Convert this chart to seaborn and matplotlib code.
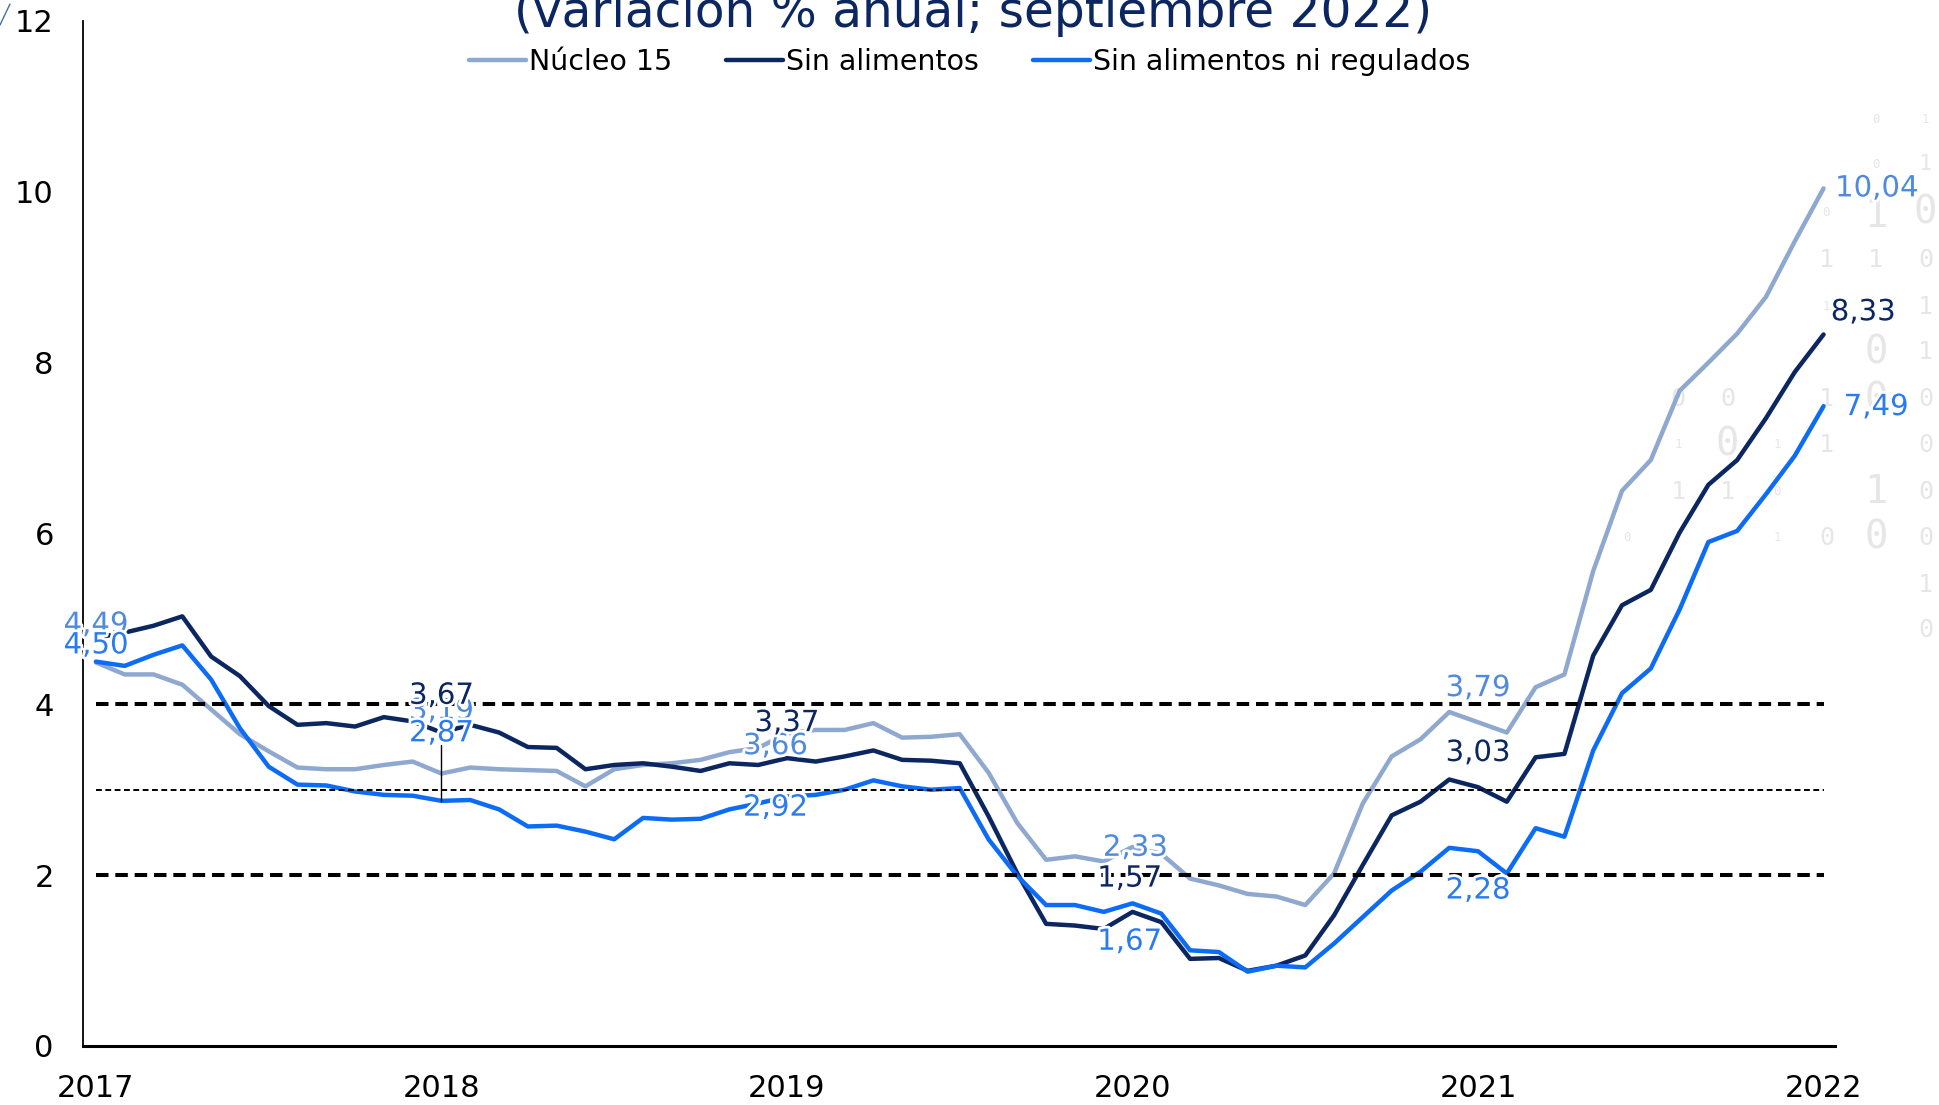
import numpy as np
import pandas as pd
import matplotlib
matplotlib.use("Agg")
import matplotlib.pyplot as plt
import seaborn as sns
from matplotlib import patheffects as pe
from matplotlib.lines import Line2D

sns.set_theme(style="white")
plt.rcParams["font.family"] = ["DejaVu Sans"]

# Monthly annual change (%), September 2017 - September 2022
years = ["2017", "2018", "2019", "2020", "2021", "2022"]
series_names = ["Núcleo 15", "Sin alimentos", "Sin alimentos ni regulados"]

nucleo15 = [4.49, 4.35, 4.35, 4.23, 3.94, 3.65, 3.45, 3.26, 3.24, 3.24, 3.29, 3.33,
            3.19, 3.26, 3.24, 3.23, 3.22, 3.04, 3.24, 3.29, 3.31, 3.35, 3.44, 3.49,
            3.66, 3.70, 3.70, 3.78, 3.61, 3.62, 3.65, 3.20, 2.61, 2.18, 2.22, 2.16,
            2.33, 2.25, 1.96, 1.88, 1.78, 1.75, 1.65, 2.02, 2.84, 3.39, 3.59, 3.91,
            3.79, 3.67, 4.20, 4.35, 5.56, 6.50, 6.86, 7.67, 8.00, 8.34, 8.77, 9.42,
            10.04]
sin_alimentos = [4.78, 4.84, 4.92, 5.03, 4.56, 4.33, 3.98, 3.76, 3.78, 3.74, 3.85, 3.80,
                 3.67, 3.76, 3.67, 3.50, 3.49, 3.24, 3.29, 3.31, 3.27, 3.22, 3.31, 3.29,
                 3.37, 3.33, 3.39, 3.46, 3.35, 3.34, 3.31, 2.69, 2.02, 1.43, 1.41, 1.37,
                 1.57, 1.45, 1.02, 1.03, 0.88, 0.94, 1.06, 1.53, 2.12, 2.70, 2.86, 3.12,
                 3.03, 2.86, 3.38, 3.42, 4.57, 5.16, 5.34, 6.01, 6.57, 6.86, 7.35, 7.89,
                 8.33]
sin_alim_regulados = [4.50, 4.45, 4.58, 4.69, 4.29, 3.72, 3.27, 3.06, 3.05, 2.98, 2.94, 2.93,
                      2.87, 2.88, 2.77, 2.57, 2.58, 2.51, 2.42, 2.67, 2.65, 2.66, 2.77, 2.84,
                      2.92, 2.94, 3.00, 3.11, 3.04, 3.00, 3.02, 2.42, 1.99, 1.65, 1.65, 1.57,
                      1.67, 1.55, 1.12, 1.10, 0.87, 0.94, 0.92, 1.20, 1.51, 1.82, 2.04, 2.32,
                      2.28, 2.02, 2.55, 2.45, 3.46, 4.13, 4.42, 5.11, 5.90, 6.03, 6.46, 6.91,
                      7.49]

# Target range reference levels
target_bounds = [2, 4]
target_center = 3

navy = "#0B2660"
line_colors = {"Núcleo 15": "#8FA8D0", "Sin alimentos": navy,
               "Sin alimentos ni regulados": "#0C6CF6"}
label_colors = {"Núcleo 15": "#4F8AE0", "Sin alimentos": navy,
                "Sin alimentos ni regulados": "#2A7BF2"}

n = len(nucleo15)
months = np.arange(n)
df = pd.DataFrame({
    "mes": np.tile(months, 3),
    "valor": nucleo15 + sin_alimentos + sin_alim_regulados,
    "serie": np.repeat(series_names, n),
})

fig = plt.figure(figsize=(19.39, 11.05), dpi=100)
fig.patch.set_facecolor("white")

# faint binary-digit backdrop on the right side
digits = [
    (1517, 97, "0", 9), (1557, 97, "1", 9), (1517, 133, "0", 9), (1557, 133, "1", 16),
    (1477, 172, "0", 9), (1517, 175, "1", 28), (1557, 172, "0", 28),
    (1477, 210, "1", 18), (1517, 210, "1", 18), (1557, 210, "0", 18),
    (1477, 248, "1", 9), (1517, 285, "0", 28), (1557, 248, "1", 18), (1557, 285, "1", 18),
    (1357, 323, "0", 18), (1397, 323, "0", 18), (1477, 323, "1", 18), (1517, 323, "0", 28),
    (1557, 323, "0", 18), (1357, 360, "1", 9), (1397, 360, "0", 28), (1437, 360, "1", 9),
    (1477, 360, "1", 18), (1557, 360, "0", 18), (1357, 398, "1", 18), (1397, 398, "1", 18),
    (1437, 398, "0", 9), (1517, 398, "1", 28), (1557, 398, "0", 18),
    (1316, 435, "0", 9), (1437, 435, "1", 9), (1477, 435, "0", 18), (1517, 435, "0", 28),
    (1557, 435, "0", 18), (1557, 473, "1", 18), (1557, 510, "0", 18),
]
for dx, dy, ch, sz in digits:
    fig.text(dx / 1568, 1 - dy / 894, ch, ha="center", va="center", fontsize=sz,
             family="DejaVu Sans Mono", color="#E6E6E6", zorder=-5)

ax = fig.add_axes([0.0428, 0.0534, 0.9036, 0.9276])
ax.patch.set_alpha(0)

# target band reference lines
ax.hlines(target_bounds, 0, n - 1, colors="black", linewidth=2.9,
          linestyles=[(0, (3.1, 1.7))], zorder=3)
ax.hlines([target_center], 0, n - 1, colors="black", linewidth=1.4,
          linestyles=[(0, (3.0, 1.8))], zorder=3)

sns.lineplot(data=df, x="mes", y="valor", hue="serie", hue_order=series_names,
             palette=line_colors, linewidth=3.2, ax=ax, zorder=2)

handles, labels = ax.get_legend_handles_labels()
ax.get_legend().remove()
leg = fig.legend(handles, labels, loc="center", bbox_to_anchor=(0.5, 0.944), ncol=3,
                 frameon=False, fontsize=20.5, handlelength=2.0, handletextpad=0.1,
                 columnspacing=1.9)
for t in leg.get_texts():
    t.set_color("black")

ax.set_xlim(-0.45, 60.4)
ax.set_ylim(0, 12)
ax.set_xticks(range(0, n, 12))
ax.set_xticklabels(years)
ax.set_yticks(range(0, 13, 2))
ax.set_xlabel("")
ax.set_ylabel("")
ax.tick_params(axis="both", length=0, labelsize=22, colors="black")
ax.tick_params(axis="x", pad=20)
ax.tick_params(axis="y", pad=21)
for s in ["top", "right"]:
    ax.spines[s].set_visible(False)
ax.spines["left"].set_color("black")
ax.spines["left"].set_linewidth(1.3)
ax.spines["bottom"].set_color("black")
ax.spines["bottom"].set_linewidth(2.2)

# leader from the 2018 label to its point
ax.plot([12, 12], [sin_alim_regulados[12], 3.52], color="black", linewidth=1.0, zorder=4)


def fmt(v):
    return f"{v:.2f}".replace(".", ",")


halo = [pe.withStroke(linewidth=4, foreground="white")]
series_values = {"Núcleo 15": nucleo15, "Sin alimentos": sin_alimentos,
                 "Sin alimentos ni regulados": sin_alim_regulados}
# (month index, x, y, horizontal alignment)
label_spots = {
    "Núcleo 15": [(0, 0, 4.93, "center"), (12, 12, 3.92, "center"),
                  (24, 23.6, 3.51, "center"), (36, 36.1, 2.32, "center"),
                  (48, 48, 4.19, "center"), (60, 60.4, 10.04, "left")],
    "Sin alimentos": [(12, 12, 4.10, "center"), (24, 24, 3.78, "center"),
                      (36, 35.9, 1.96, "center"), (48, 48, 3.43, "center"),
                      (60, 60.25, 8.59, "left")],
    "Sin alimentos ni regulados": [(0, 0, 4.69, "center"), (12, 12, 3.66, "center"),
                                   (24, 23.6, 2.79, "center"), (36, 35.9, 1.22, "center"),
                                   (48, 48, 1.82, "center"), (60, 60.7, 7.48, "left")],
}
for name in series_names:
    vals = series_values[name]
    for idx, x, y, ha in label_spots[name]:
        ax.text(x, y, fmt(vals[idx]), ha=ha, va="center", fontsize=21,
                color=label_colors[name], path_effects=halo, zorder=6, clip_on=False)

fig.text(0.502, 1 - 27 / 1105, "(variación % anual; septiembre 2022)", ha="center",
         va="baseline", fontsize=35, color=navy)

fig.add_artist(Line2D([0, 10 / 1939], [1 - 25 / 1105, 1 - 4 / 1105],
                      transform=fig.transFigure, color="#3F6FC0", linewidth=1))

fig.savefig("out.png", dpi=100, facecolor="white")
